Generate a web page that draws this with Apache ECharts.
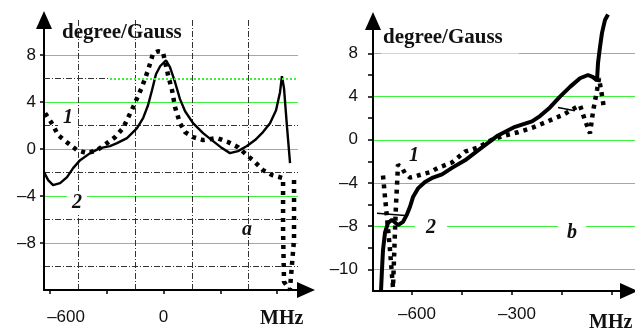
<!DOCTYPE html>
<html>
<head>
<meta charset="utf-8">
<script src="https://cdn.jsdelivr.net/npm/echarts@6/dist/echarts.min.js"></script>
<style>
  html, body { margin: 0; padding: 0; background: #fff; }
  #chart { width: 635px; height: 331px; }
</style>
</head>
<body>
<div id="chart"></div>
<script>
// panel a: [MHz, degree/Gauss]
const aDotted = [
  [-626, 3.06], [-584, 2.04], [-558, 1.19], [-505, 0.51], [-457, -0.09], [-404, -0.34],
  [-351, -0.09], [-299, 0.51], [-256, 1.02], [-214, 1.79], [-161, 3.57], [-114, 5.28],
  [-82, 6.72], [-55, 8.17], [-29, 8.34], [-3, 8.26], [24, 6.3], [45, 5.02], [61, 3.57],
  [87, 2.21], [114, 1.45], [156, 1.02], [209, 0.77], [283, 0.94], [341, 0.6], [394, 0.17],
  [441, -0.51], [484, -1.11], [526, -1.79], [574, -2.21], [632, -2.47], [632, -6.9],
  [637, -11.3], [668, -12], [690, -7.7], [690, -2.4]
];
const aSolid = [
  [-632, -1.96], [-610, -2.64], [-584, -3.06], [-547, -2.89], [-510, -2.38], [-478, -1.62],
  [-441, -0.94], [-388, -0.34], [-336, 0.09], [-283, 0.26], [-246, 0.51], [-193, 0.94],
  [-140, 1.79], [-108, 2.64], [-82, 3.74], [-61, 5.02], [-40, 6.38], [-18, 7.06], [13, 7.57],
  [34, 6.98], [61, 5.7], [87, 4.26], [114, 3.23], [156, 2.21], [209, 1.36], [262, 0.68],
  [309, 0.09], [351, -0.34], [394, -0.17], [441, 0.26], [484, 0.77], [526, 1.45], [563, 2.21],
  [595, 3.32], [616, 4.85], [626, 6.21], [637, 5.19], [653, 1.87], [669, -1.19]
];
// panel b
const bDotted = [
  [-687, -3.3], [-681, -5.3], [-675, -7.2], [-666, -10.2], [-657, -13.7], [-654, -11.1],
  [-651, -8.4], [-648, -6.0], [-645, -4.2], [-642, -2.3], [-630, -2.6], [-621, -3.1],
  [-606, -3.5], [-591, -3.4], [-570, -3.2], [-546, -3.0], [-522, -2.6], [-480, -2.1],
  [-441, -1.1], [-402, -0.7], [-360, 0.0], [-321, 0.4], [-282, 0.7], [-240, 1.1],
  [-201, 1.6], [-171, 2.0], [-147, 2.3], [-120, 2.8], [-96, 3.2], [-81, 1.8], [-66, 0.6],
  [-57, 2.6], [-45, 4.6], [-39, 5.7], [-30, 4.1], [-24, 2.9]
];
const bSolid = [
  [-693, -14.0], [-690, -12.0], [-687, -10.2], [-681, -8.6], [-672, -7.7], [-660, -7.4],
  [-642, -7.9], [-627, -7.6], [-615, -6.9], [-606, -6.2], [-597, -5.3], [-582, -4.5],
  [-561, -3.9], [-537, -3.5], [-510, -3.2], [-480, -2.6], [-441, -1.9], [-390, -0.7],
  [-342, 0.4], [-291, 1.2], [-240, 1.7], [-216, 2.2], [-186, 3.0], [-156, 4.0], [-126, 4.9],
  [-96, 5.7], [-72, 6.0], [-57, 5.8], [-45, 5.5], [-42, 7.1], [-36, 8.6], [-30, 9.9],
  [-21, 11.1], [-12, 11.6]
];
const bBranch = [[-705, -6.8], [-621, -7.0], null, [-162, 3.0], [-111, 2.7]];

// axes
const aXTicks = [-600, -300, 0, 300, 600];
const aXLabels = [-600, 0];
const aXGrid = [-450, -150, 150, 450];
const aYLabels = [-8, -4, 0, 4, 8];
const aYGrid = [-10, -6, -2, 2];
const aLevel6 = [-632, -283, 700];   // dash-dot part, then green dotted part
const bXTicks = [-600, -450, -300, -150, 0];
const bXLabels = [-600, -300];
const bYValues = [-12, -8, -4, 0, 4, 8];
const bYLabels = ['–10', '–8', '–4', '0', '4', '8'];
const bYMinor = [-10, -6, -2, 2, 6];

const green = '#3cf03c';
const dashDot = { color: '#333', width: 1, type: [6, 2, 1, 2] };
const numFont = { fontFamily: 'Liberation Sans', fontSize: 17, color: '#111' };
const minus = v => (v < 0 ? '–' + (-v) : String(v));
const axisLine = (off) => ({
  onZero: false,
  lineStyle: { color: '#000', width: 2 },
  symbol: ['none', 'triangle'],
  symbolSize: [16, 18],
  symbolOffset: [0, off]
});

const chart = echarts.init(document.getElementById('chart'));
chart.setOption({
  animation: false,
  grid: [
    { left: 44, top: 20, width: 254, height: 270, outerBoundsMode: 'none' },
    { left: 373, top: 21, width: 262, height: 270, outerBoundsMode: 'none' }
  ],
  xAxis: [
    {
      gridIndex: 0, type: 'value', min: -632, max: 711, position: 'bottom',
      axisLine: axisLine(8),
      axisTick: { customValues: aXTicks, length: 4, lineStyle: { color: '#000', width: 1.5 } },
      axisLabel: Object.assign({}, numFont, {
        customValues: aXLabels, margin: 19,
        formatter: v => (v < 0 ? '{s|' + minus(v) + '}' : minus(v)),
        rich: { s: Object.assign({}, numFont, { padding: [0, 0, 0, 32] }) }
      }),
      splitLine: { show: false }
    },
    {
      gridIndex: 0, type: 'value', min: -632, max: 711, position: 'bottom',
      axisLine: { show: false, onZero: false },
      axisTick: { show: false, customValues: aXGrid },
      axisLabel: { show: false },
      splitLine: { show: true, lineStyle: dashDot }
    },
    {
      gridIndex: 1, type: 'value', min: -717, max: 69, position: 'bottom',
      axisLine: axisLine(-6),
      axisTick: { customValues: bXTicks, length: 4, lineStyle: { color: '#000', width: 1.5 } },
      axisLabel: Object.assign({}, numFont, {
        customValues: bXLabels, margin: 15, padding: [0, 0, 0, 10], formatter: minus
      }),
      splitLine: { show: false }
    }
  ],
  yAxis: [
    {
      gridIndex: 0, type: 'value', min: -12, max: 11, position: 'left',
      axisLine: axisLine(0),
      axisTick: { customValues: aYLabels, length: 4, lineStyle: { color: '#000', width: 1.5 } },
      axisLabel: Object.assign({}, numFont, { customValues: aYLabels, margin: 8, formatter: minus }),
      splitLine: { show: true, lineStyle: { color: green, width: 1.2 } }
    },
    {
      gridIndex: 0, type: 'value', min: -12, max: 11, position: 'left',
      axisLine: { show: false, onZero: false },
      axisTick: { show: false, customValues: aYGrid },
      axisLabel: { show: false },
      splitLine: { show: true, lineStyle: dashDot }
    },
    {
      gridIndex: 1, type: 'value', min: -14, max: 11, position: 'left',
      axisLine: axisLine(0),
      axisTick: { customValues: bYValues, length: 5, lineStyle: { color: '#000', width: 1.5 } },
      axisLabel: Object.assign({}, numFont, {
        customValues: bYValues, margin: 15,
        formatter: v => bYLabels[bYValues.indexOf(v)]
      }),
      splitLine: { show: true, lineStyle: { color: green, width: 1.2 } }
    },
    {
      gridIndex: 1, type: 'value', min: -14, max: 11, position: 'left',
      axisLine: { show: false, onZero: false },
      axisTick: { show: true, customValues: bYMinor, length: 5, lineStyle: { color: '#000', width: 1.5 } },
      axisLabel: { show: false },
      splitLine: { show: false }
    }
  ],
  series: [
    {
      type: 'line', xAxisIndex: 0, yAxisIndex: 0, data: aDotted, symbol: 'none',
      lineStyle: { color: '#000', width: 4.5, type: [4, 5], cap: 'butt' },
      markLine: {
        silent: true, symbol: 'none', label: { show: false }, animation: false,
        data: [
          [{ coord: [aLevel6[0], 6], lineStyle: dashDot }, { coord: [aLevel6[1], 6] }],
          [{ coord: [aLevel6[1], 6], lineStyle: { color: green, width: 2, type: [2, 2] } }, { coord: [aLevel6[2], 6] }]
        ]
      }
    },
    {
      type: 'line', xAxisIndex: 0, yAxisIndex: 0, data: aSolid, symbol: 'none',
      lineStyle: { color: '#000', width: 2.4 }
    },
    {
      type: 'line', xAxisIndex: 2, yAxisIndex: 2, data: bDotted, symbol: 'none',
      lineStyle: { color: '#000', width: 4.5, type: [4, 5], cap: 'butt' }
    },
    {
      type: 'line', xAxisIndex: 2, yAxisIndex: 2, data: bSolid, symbol: 'none', clip: false,
      lineStyle: { color: '#000', width: 4 }
    },
    {
      type: 'line', xAxisIndex: 2, yAxisIndex: 2, data: bBranch, symbol: 'none', connectNulls: false,
      lineStyle: { color: '#000', width: 1.5 }
    }
  ],
  graphic: [
    { type: 'text', x: 62, y: 33, z: 1, style: { text: 'degree/Gauss', font: 'bold 21px "Liberation Serif"', fill: '#111', align: 'left', verticalAlign: 'middle' } },
    { type: 'text', x: 381, y: 38, z: 1, style: { text: 'degree/Gauss', font: 'bold 21px "Liberation Serif"', fill: '#111', align: 'left', verticalAlign: 'middle', backgroundColor: '#fff', padding: [2, 16, 8, 2] } },
    { type: 'text', x: 260, y: 319, z: 1, style: { text: 'MHz', font: 'bold 20px "Liberation Serif"', fill: '#111', align: 'left', verticalAlign: 'middle' } },
    { type: 'text', x: 589, y: 323, z: 1, style: { text: 'MHz', font: 'bold 20px "Liberation Serif"', fill: '#111', align: 'left', verticalAlign: 'middle' } },
    { type: 'text', x: 68, y: 118, z: 1, style: { text: '1', font: 'italic bold 20px "Liberation Serif"', fill: '#111', align: 'center', verticalAlign: 'middle', backgroundColor: '#fff', padding: [9, 5, 1, 5] } },
    { type: 'text', x: 77, y: 203, z: 1, style: { text: '2', font: 'italic bold 20px "Liberation Serif"', fill: '#111', align: 'center', verticalAlign: 'middle', backgroundColor: '#fff', padding: [1, 5, 1, 5] } },
    { type: 'text', x: 247, y: 230, z: 1, style: { text: 'a', font: 'italic bold 20px "Liberation Serif"', fill: '#111', align: 'center', verticalAlign: 'middle' } },
    { type: 'text', x: 414, y: 156, z: 1, style: { text: '1', font: 'italic bold 20px "Liberation Serif"', fill: '#111', align: 'center', verticalAlign: 'middle', backgroundColor: '#fff', padding: [8, 5, 0, 5] } },
    { type: 'text', x: 431, y: 228, z: 1, style: { text: '2', font: 'italic bold 20px "Liberation Serif"', fill: '#111', align: 'center', verticalAlign: 'middle', backgroundColor: '#fff', padding: [1, 11, 1, 11] } },
    { type: 'text', x: 572, y: 233, z: 1, style: { text: 'b', font: 'italic bold 20px "Liberation Serif"', fill: '#111', align: 'center', verticalAlign: 'middle', backgroundColor: '#fff', padding: [1, 9, 1, 9] } }
  ]
});
</script>
</body>
</html>
